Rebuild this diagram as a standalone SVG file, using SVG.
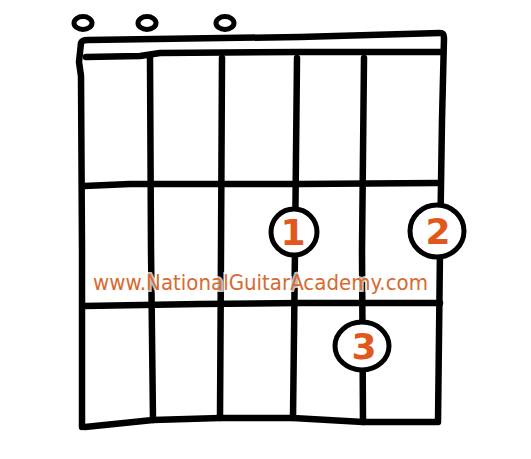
<svg xmlns="http://www.w3.org/2000/svg" width="531" height="459" viewBox="0 0 531 459">
<style>
.ln{fill:none;stroke:#000;stroke-width:6.5;stroke-linecap:round;stroke-linejoin:round}
.open{fill:none;stroke:#000;stroke-width:5}
.fing{fill:#fff;stroke:#000;stroke-width:5}
.num{font-family:"DejaVu Sans",sans-serif;font-size:36px;font-weight:bold;fill:#E0581C;text-anchor:middle}
.wm{font-family:"DejaVu Sans",sans-serif;font-size:22px;fill:#D86A30;stroke:#fff;stroke-width:4;stroke-opacity:0.75;paint-order:stroke}
</style>
<rect width="531" height="459" fill="#fff"/>
<g id="connectors">
<path class="ln" d="M82,427 L82,250 L81,76 L79,62 L81,43 Q82,40 88,40 L300,37 L440,33 Q444,33 444,38 L442,120 L440,250 L438,422"/>
<path class="ln" d="M86,57 L140,56 L160,53 L300,52 L443,52"/>
<path class="ln" d="M150,58 L151,250 L153,420"/>
<path class="ln" d="M222,58 L221,250 L220,418"/>
<path class="ln" d="M297,58 L295,250 L293,418"/>
<path class="ln" d="M364,58 L362,250 L363,422"/>
<path class="ln" d="M84,186 L130,184 L300,184 L437,183"/>
<path class="ln" d="M84,306 L200,304 L300,303 L440,303"/>
<path class="ln" d="M85,427 L153,420 L220,418 L293,418 L363,422 L437,422"/>
</g>
<g id="open-1"><ellipse class="open" cx="83" cy="23" rx="9" ry="6.5"/></g>
<g id="open-2"><ellipse class="open" cx="147" cy="23" rx="9" ry="6.5"/></g>
<g id="open-3"><ellipse class="open" cx="225" cy="23" rx="9" ry="6.5"/></g>
<g id="finger-1"><ellipse class="fing" cx="294" cy="232" rx="23" ry="23"/><text class="num" x="293" y="245">1</text></g>
<g id="finger-2"><ellipse class="fing" cx="437" cy="231" rx="27" ry="26"/><text class="num" x="438" y="244">2</text></g>
<g id="finger-3"><ellipse class="fing" cx="362" cy="346" rx="27" ry="24"/><text class="num" x="364" y="359">3</text></g>
<text class="wm" x="93" y="290" textLength="335" lengthAdjust="spacingAndGlyphs">www.NationalGuitarAcademy.com</text>
</svg>
